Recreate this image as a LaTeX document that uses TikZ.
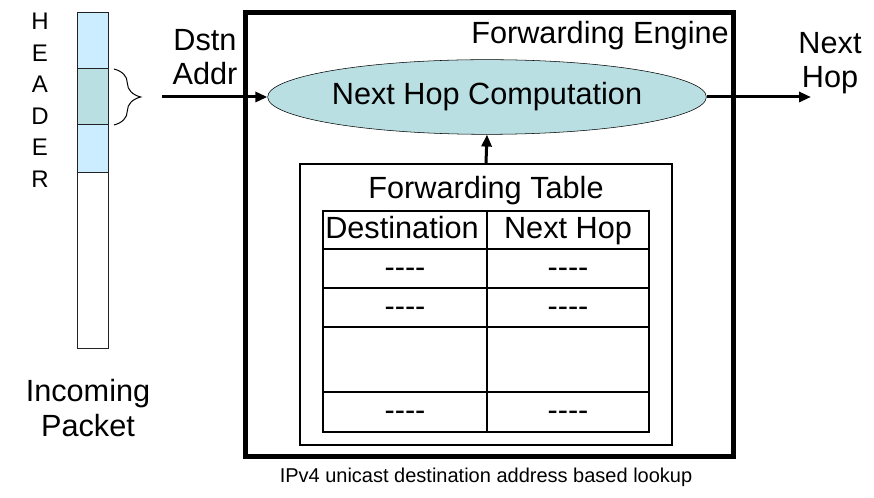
\documentclass[tikz,border=0pt]{standalone}
\usepackage{fontspec}
\setmainfont{Liberation Sans}
\usetikzlibrary{arrows.meta,positioning,shapes.geometric,decorations.pathreplacing}
\definecolor{PktBlue}{HTML}{CCECFF}
\definecolor{PktTeal}{HTML}{B9DFE3}
\definecolor{Outline}{HTML}{222222}

\begin{document}
\begin{tikzpicture}[
  x=0.75pt,y=-0.75pt,
  lbl/.style={font=\fontsize{23}{26}\selectfont,align=center,inner sep=0pt},
  cell/.style={font=\fontsize{23}{26}\selectfont,inner sep=0pt,text height=16.5pt,text depth=4.5pt},
  letter/.style={font=\fontsize{18}{20}\selectfont,inner sep=0pt,text height=13pt,text depth=0pt},
  engine/.style={draw,line width=3.75pt,minimum width=366pt,minimum height=333pt,inner sep=0pt},
  tablebox/.style={draw,line width=1.5pt,minimum width=279pt,minimum height=211pt,inner sep=0pt},
  compute/.style={ellipse,draw,thin,fill=PktTeal,minimum width=268pt,minimum height=56pt,inner sep=0pt,font=\fontsize{23}{26}\selectfont},
  seg/.style={draw=Outline,line width=0.75pt},
  grid/.style={line width=1.5pt},
  arrow/.style={-{Triangle[length=9pt,width=7.5pt]},line width=2.25pt}
]
\useasboundingbox (0,0) rectangle (874,498);
% incoming packet
\draw[seg,fill=PktBlue] (77,13) rectangle (108,69);
\draw[seg,fill=PktTeal] (77,69) rectangle (108,125);
\draw[seg,fill=PktBlue] (77,125) rectangle (108,173);
\draw[seg,fill=white] (77,173) rectangle (108,349);
\foreach \ch [count=\i from 0] in {H,E,A,D,E,R}
  \node[letter] (hdr\i) at (40,21+31.5*\i) {\ch};
\draw[line width=0.75pt,decorate,decoration={brace,amplitude=20pt,aspect=0.5}] (114,69) -- (114,125);
\node[lbl] (pkt) at (88,408) {Incoming\\Packet};
% forwarding engine
\node[engine] (engine) at (489,235) {};
\node[cell,anchor=east] (engname) at (729,36) {Forwarding Engine};
\node[compute] (nhc) at (487,97) {Next Hop Computation};
\node[lbl] (dstn) at (205,57) {Dstn\\Addr};
\node[lbl] (nexthop) at (830,63) {Next\\Hop};
\coordinate (in) at (162,97);
\coordinate (out) at (811,97);
\draw[arrow] (in) -- (nhc.west);
\draw[arrow] (nhc.east) -- (out);
% forwarding table
\node[tablebox] (fwdtable) at (486,304.5) {};
\draw[arrow] (fwdtable.north) -- (nhc.south);
\node[cell] (tabname) at (486,191) {Forwarding Table};
\draw[grid] (323,211) rectangle (649,432);
\draw[grid] (487,211) -- (487,432);
\foreach \y in {249,288,327,392}
  \draw[grid] (323,\y) -- (649,\y);
\node[cell] (coldst) at (402,231) {Destination};
\node[cell] (colhop) at (568,231) {Next Hop};
\foreach \y [count=\r] in {269.5,308.5,413} {
  \node[cell] (dst\r) at (405,\y) {{-}{-}{-}{-}};
  \node[cell] (hop\r) at (568,\y) {{-}{-}{-}{-}};
}
\node[font=\fontsize{15}{18}\selectfont,inner sep=0pt] (caption) at (486,477) {IPv4 unicast destination address based lookup};
\end{tikzpicture}
\end{document}
